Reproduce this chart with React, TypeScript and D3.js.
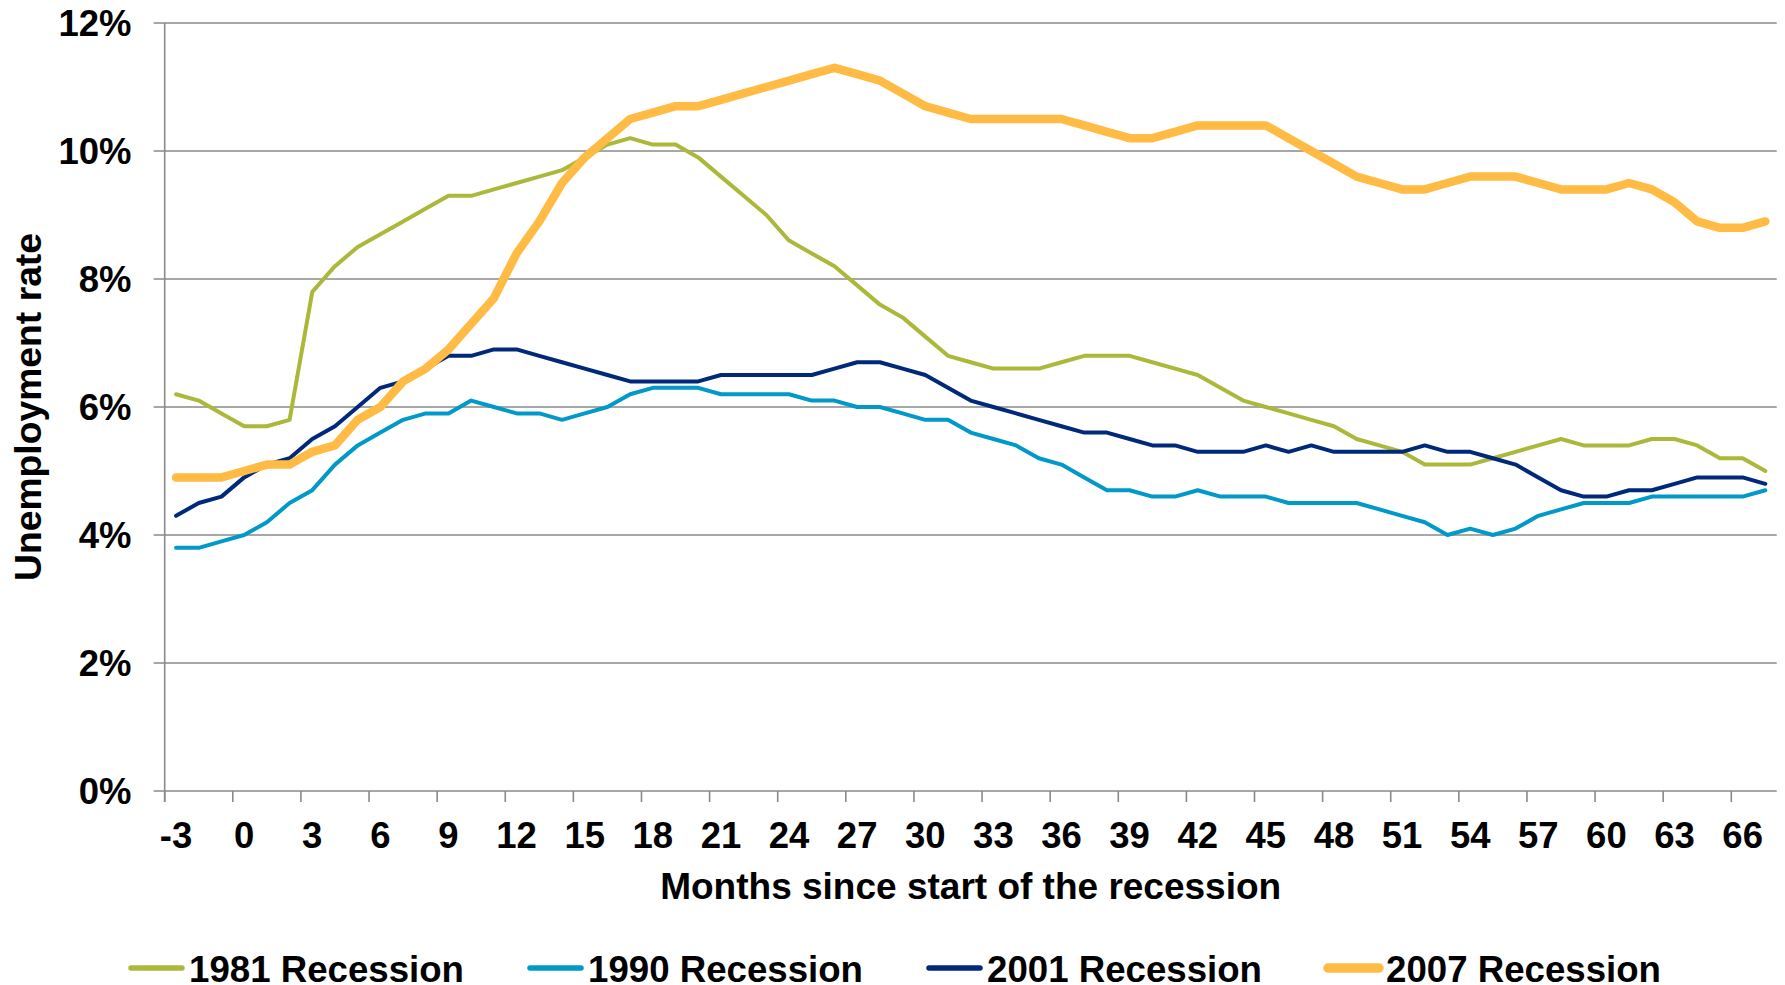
import React from "react";
import * as d3 from "d3";

// ---- Data ----
const months = [
  -3, -2, -1, 0, 1, 2, 3, 4, 5, 6, 7, 8, 9, 10, 11, 12, 13, 14, 15, 16, 17, 18, 19, 20,
  21, 22, 23, 24, 25, 26, 27, 28, 29, 30, 31, 32, 33, 34, 35, 36, 37, 38, 39, 40, 41, 42,
  43, 44, 45, 46, 47, 48, 49, 50, 51, 52, 53, 54, 55, 56, 57, 58, 59, 60, 61, 62, 63, 64,
  65, 66, 67,
];

const rec1981 = [
  6.2, 6.1, 5.9, 5.7, 5.7, 5.8, 7.8, 8.2, 8.5, 8.7, 8.9, 9.1, 9.3, 9.3, 9.4, 9.5, 9.6, 9.7,
  9.9, 10.1, 10.2, 10.1, 10.1, 9.9, 9.6, 9.3, 9.0, 8.6, 8.4, 8.2, 7.9, 7.6, 7.4, 7.1, 6.8,
  6.7, 6.6, 6.6, 6.6, 6.7, 6.8, 6.8, 6.8, 6.7, 6.6, 6.5, 6.3, 6.1, 6.0, 5.9, 5.8, 5.7, 5.5,
  5.4, 5.3, 5.1, 5.1, 5.1, 5.2, 5.3, 5.4, 5.5, 5.4, 5.4, 5.4, 5.5, 5.5, 5.4, 5.2, 5.2, 5.0,
];

const rec1990 = [
  3.8, 3.8, 3.9, 4.0, 4.2, 4.5, 4.7, 5.1, 5.4, 5.6, 5.8, 5.9, 5.9, 6.1, 6.0, 5.9, 5.9, 5.8,
  5.9, 6.0, 6.2, 6.3, 6.3, 6.3, 6.2, 6.2, 6.2, 6.2, 6.1, 6.1, 6.0, 6.0, 5.9, 5.8, 5.8, 5.6,
  5.5, 5.4, 5.2, 5.1, 4.9, 4.7, 4.7, 4.6, 4.6, 4.7, 4.6, 4.6, 4.6, 4.5, 4.5, 4.5, 4.5, 4.4,
  4.3, 4.2, 4.0, 4.1, 4.0, 4.1, 4.3, 4.4, 4.5, 4.5, 4.5, 4.6, 4.6, 4.6, 4.6, 4.6, 4.7,
];

const rec2001 = [
  4.3, 4.5, 4.6, 4.9, 5.1, 5.2, 5.5, 5.7, 6.0, 6.3, 6.4, 6.6, 6.8, 6.8, 6.9, 6.9, 6.8, 6.7,
  6.6, 6.5, 6.4, 6.4, 6.4, 6.4, 6.5, 6.5, 6.5, 6.5, 6.5, 6.6, 6.7, 6.7, 6.6, 6.5, 6.3, 6.1,
  6.0, 5.9, 5.8, 5.7, 5.6, 5.6, 5.5, 5.4, 5.4, 5.3, 5.3, 5.3, 5.4, 5.3, 5.4, 5.3, 5.3, 5.3,
  5.3, 5.4, 5.3, 5.3, 5.2, 5.1, 4.9, 4.7, 4.6, 4.6, 4.7, 4.7, 4.8, 4.9, 4.9, 4.9, 4.8,
];

const rec2007 = [
  4.9, 4.9, 4.9, 5.0, 5.1, 5.1, 5.3, 5.4, 5.8, 6.0, 6.4, 6.6, 6.9, 7.3, 7.7, 8.4, 8.9, 9.5,
  9.9, 10.2, 10.5, 10.6, 10.7, 10.7, 10.8, 10.9, 11.0, 11.1, 11.2, 11.3, 11.2, 11.1, 10.9,
  10.7, 10.6, 10.5, 10.5, 10.5, 10.5, 10.5, 10.4, 10.3, 10.2, 10.2, 10.3, 10.4, 10.4, 10.4,
  10.4, 10.2, 10.0, 9.8, 9.6, 9.5, 9.4, 9.4, 9.5, 9.6, 9.6, 9.6, 9.5, 9.4, 9.4, 9.4, 9.5,
  9.4, 9.2, 8.9, 8.8, 8.8, 8.9,
];

const seriesNames = ["1981 Recession", "1990 Recession", "2001 Recession", "2007 Recession"];
const seriesValues = [rec1981, rec1990, rec2001, rec2007];

const yTickValues = [0, 2, 4, 6, 8, 10, 12];
const yTickLabels = ["0%", "2%", "4%", "6%", "8%", "10%", "12%"];
const xTickMonths = [-3, 0, 3, 6, 9, 12, 15, 18, 21, 24, 27, 30, 33, 36, 39, 42, 45, 48, 51, 54, 57, 60, 63, 66];
const xTickLabels = ["-3", "0", "3", "6", "9", "12", "15", "18", "21", "24", "27", "30", "33", "36", "39", "42", "45", "48", "51", "54", "57", "60", "63", "66"];

const xTitle = "Months since start of the recession";
const yTitle = "Unemployment rate";

// ---- Styles ----
const seriesColors = ["#ABB83A", "#0099C8", "#00297A", "#FFBB44"];
const seriesWidths = [4, 4, 4, 8.5];
const legendWidths = [5.5, 5.5, 5.5, 9.5];
const FONT = "'Liberation Sans', Arial, Helvetica, sans-serif";
const GRID = "#8a8a8a";

export default function App() {
  const W = 1785;
  const H = 985;
  const left = 164.7;
  const right = 1776.7;
  const top = 23;
  const bottom = 791;

  const x = d3.scaleBand<number>().domain(months).range([left, right]).padding(0);
  const y = d3.scaleLinear().domain([0, 12]).range([bottom, top]);
  const cx = (m: number) => (x(m) as number) + x.bandwidth() / 2;

  const lineGen = d3
    .line<number>()
    .x((_, i) => cx(months[i]))
    .y((d) => y(d));

  const legendStart = 129;
  const legendStep = 399;
  const legendY = 968;

  return (
    <svg
      width={W}
      height={H}
      style={{ position: "fixed", left: 0, top: 0, background: "#fff" }}
      fontFamily={FONT}
      fontWeight="bold"
    >
      <rect x={0} y={0} width={W} height={H} fill="#fff" />
      {/* gridlines + y ticks */}
      {yTickValues.map((v, i) => (
        <g key={"g" + v}>
          <line x1={left - 11} x2={right} y1={y(v)} y2={y(v)} stroke={GRID} strokeWidth={1.6} />
          <text x={131.5} y={y(v)} dy={12.9} textAnchor="end" fontSize={36.5} fill="#000">
            {yTickLabels[i]}
          </text>
        </g>
      ))}
      {/* y axis */}
      <line x1={left} x2={left} y1={top} y2={bottom + 11} stroke={GRID} strokeWidth={1.6} />
      {/* x ticks */}
      {xTickMonths.map((m, i) => (
        <g key={"x" + m}>
          <line x1={x(m) as number} x2={x(m) as number} y1={bottom} y2={bottom + 11} stroke={GRID} strokeWidth={1.6} />
          <text x={cx(m)} y={848} textAnchor="middle" fontSize={36.5} fill="#000">
            {xTickLabels[i]}
          </text>
        </g>
      ))}
      {/* axis titles */}
      <text
        x={(left + right) / 2}
        y={898.5}
        textAnchor="middle"
        fontSize={36}
        textLength={621}
        lengthAdjust="spacingAndGlyphs"
        fill="#000"
      >
        {xTitle}
      </text>
      <text
        transform={`translate(41,${(top + bottom) / 2}) rotate(-90)`}
        textAnchor="middle"
        fontSize={36}
        textLength={348}
        lengthAdjust="spacingAndGlyphs"
        fill="#000"
      >
        {yTitle}
      </text>
      {/* series */}
      {seriesValues.map((vals, s) => (
        <path
          key={seriesNames[s]}
          d={lineGen(vals) as string}
          fill="none"
          stroke={seriesColors[s]}
          strokeWidth={seriesWidths[s]}
          strokeLinejoin="round"
          strokeLinecap="round"
        />
      ))}
      {/* legend */}
      {seriesNames.map((name, s) => {
        const lx = legendStart + s * legendStep;
        return (
          <g key={"l" + name}>
            <line
              x1={lx + 2}
              x2={lx + 53}
              y1={legendY}
              y2={legendY}
              stroke={seriesColors[s]}
              strokeWidth={legendWidths[s]}
              strokeLinecap="round"
            />
            <text
              x={lx + 60}
              y={981.5}
              fontSize={36}
              textLength={275}
              lengthAdjust="spacingAndGlyphs"
              fill="#000"
            >
              {name}
            </text>
          </g>
        );
      })}
    </svg>
  );
}
